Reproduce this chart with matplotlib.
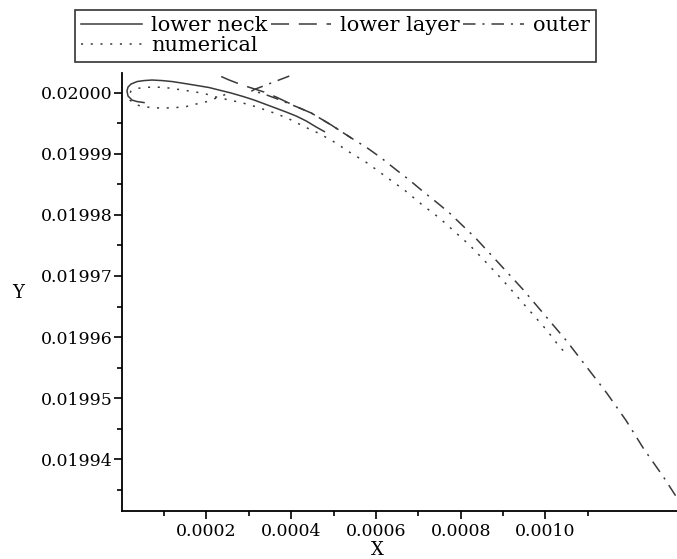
import matplotlib
matplotlib.use("Agg")
import matplotlib.pyplot as plt
from matplotlib.ticker import FixedLocator, FormatStrFormatter

plt.rcParams['font.family'] = ['DejaVu Serif']
plt.rcParams['lines.scale_dashes'] = False

# ---- data ----
outer_x = [3.955e-4, 3.317e-4, 3.128e-4, 3.057e-4, 3.199e-4, 3.364e-4, 3.648e-4, 4.144e-4,
           4.475e-4, 4.948e-4, 5.421e-4, 5.799e-4, 6.130e-4, 6.485e-4, 6.792e-4, 7.099e-4,
           7.454e-4, 7.738e-4, 8.352e-4, 8.920e-4, 9.463e-4, 9.984e-4, 1.0504e-3, 1.0976e-3,
           1.1449e-3, 1.1898e-3, 1.2324e-3, 1.2773e-3, 1.3104e-3]
outer_y = [0.0200027, 0.0200010, 0.0200005, 0.0200002, 0.02000008, 0.01999975, 0.01999902,
           0.01999763, 0.01999665, 0.01999468, 0.01999255, 0.01999092, 0.01998928, 0.01998732,
           0.01998568, 0.01998388, 0.01998192, 0.01998028, 0.01997619, 0.01997193, 0.01996784,
           0.01996359, 0.01995933, 0.01995508, 0.01995082, 0.01994640, 0.01994166, 0.01993724,
           0.0199337]

layer_x = [2.348e-4, 2.537e-4, 2.844e-4, 3.364e-4, 3.648e-4, 4.144e-4, 4.475e-4, 4.948e-4, 5.421e-4]
layer_y = [0.02000262, 0.02000205, 0.02000123, 0.02000008, 0.01999926, 0.01999763, 0.01999665,
           0.01999468, 0.01999255]

neck_x = [5.27e-5, 3.62e-5, 2.44e-5, 1.49e-5, 1.25e-5, 1.49e-5, 2.20e-5, 3.62e-5, 5.27e-5,
          7.16e-5, 9.53e-5, 1.189e-4, 1.426e-4, 1.780e-4, 2.064e-4, 2.300e-4, 2.584e-4, 2.868e-4,
          3.128e-4, 3.317e-4, 3.600e-4, 3.884e-4, 4.121e-4, 4.357e-4, 4.593e-4, 4.783e-4]
neck_y = [0.01999836, 0.01999853, 0.01999877, 0.01999943, 0.02000025, 0.0200009, 0.02000139,
          0.0200018, 0.02000196, 0.02000205, 0.02000196, 0.0200018, 0.02000155, 0.02000115,
          0.02000082, 0.02000041, 0.01999992, 0.01999935, 0.01999877, 0.01999828, 0.01999755,
          0.01999681, 0.01999615, 0.01999534, 0.01999435, 0.01999362]

num_x = [2.442e-4, 2.229e-4, 1.993e-4, 1.757e-4, 1.520e-4, 1.284e-4, 1.000e-4, 7.64e-5, 5.27e-5,
         3.14e-5, 1.96e-5, 1.73e-5, 2.20e-5, 3.38e-5, 5.27e-5, 7.16e-5, 1.000e-4, 1.284e-4,
         1.520e-4, 1.757e-4, 1.993e-4, 2.182e-4, 2.489e-4, 2.820e-4, 3.080e-4, 3.364e-4,
         3.600e-4, 3.908e-4, 4.192e-4, 4.381e-4, 4.664e-4, 5.019e-4, 5.374e-4, 5.799e-4,
         6.248e-4, 6.674e-4, 7.099e-4, 7.501e-4, 8.211e-4, 8.683e-4, 8.991e-4, 9.511e-4,
         1.0031e-3, 1.0338e-3, 1.0456e-3]
num_y = [0.01999967, 0.0199991, 0.01999849, 0.01999812, 0.01999771, 0.01999755, 0.01999746,
         0.01999751, 0.01999768, 0.01999804, 0.01999877, 0.01999959, 0.02000025, 0.02000065,
         0.02000082, 0.0200009, 0.02000085, 0.02000057, 0.02000033, 0.02000008, 0.01999975,
         0.01999935, 0.01999885, 0.01999836, 0.01999787, 0.01999722, 0.01999665, 0.01999583,
         0.01999484, 0.01999419, 0.01999329, 0.0199919, 0.01999026, 0.01998846, 0.01998617,
         0.01998404, 0.01998159, 0.01997946, 0.01997504, 0.01997161, 0.01996932, 0.01996522,
         0.01996113, 0.01995835, 0.01995753]

labels = ["lower neck", "lower layer", "outer", "numerical"]
xticks = [0.0002, 0.0004, 0.0006, 0.0008, 0.0010]
yticks = [0.01994, 0.01995, 0.01996, 0.01997, 0.01998, 0.01999, 0.02000]

# ---- figure ----
W, H = 677, 559
fig = plt.figure(figsize=(W / 100, H / 100), dpi=100)
ax = fig.add_axes([121.7 / W, 1 - 510.7 / H, 1 - 121.7 / W, (510.7 - 73) / H])

col = '#3a3a3a'
lw = 1.1
l_neck, = ax.plot(neck_x, neck_y, color=col, lw=lw, ls='-')
l_layer, = ax.plot(layer_x, layer_y, color=col, lw=lw, ls=(0, (13, 7)))
l_outer, = ax.plot(outer_x, outer_y, color=col, lw=lw, ls=(0, (9, 5, 1.5, 5)))
l_num, = ax.plot(num_x, num_y, color=col, lw=lw, ls=(0, (1.5, 5.5)))

ax.set_xlim(0, 0.0013104)
ax.set_ylim(0.0199316, 0.0200032)

for s in ['top', 'right']:
    ax.spines[s].set_visible(False)
for s in ['left', 'bottom']:
    ax.spines[s].set_linewidth(1.3)

ax.xaxis.set_major_locator(FixedLocator(xticks))
ax.xaxis.set_minor_locator(FixedLocator([0.0001, 0.0003, 0.0005, 0.0007, 0.0009, 0.0011]))
ax.yaxis.set_major_locator(FixedLocator(yticks))
ax.yaxis.set_minor_locator(FixedLocator([0.019935, 0.019945, 0.019955, 0.019965,
                                         0.019975, 0.019985, 0.019995]))
ax.xaxis.set_major_formatter(FormatStrFormatter('%.4f'))
ax.yaxis.set_major_formatter(FormatStrFormatter('%.5f'))
ax.tick_params(which='major', direction='out', length=5.5, width=1.2, labelsize=12.5)
ax.tick_params(axis='y', which='major', pad=1)
ax.tick_params(axis='x', which='major', pad=3.5)
ax.tick_params(which='minor', direction='out', length=3.5, width=1.2)

fig.text(18 / W, 1 - 293 / H, 'Y', ha='center', va='center', fontsize=13)
fig.text(377 / W, 1 - 550 / H, 'X', ha='center', va='center', fontsize=13)

leg = fig.legend([l_neck, l_num, l_layer, l_outer],
                 [labels[0], labels[3], labels[1], labels[2]],
                 ncol=3, loc='upper left', bbox_to_anchor=(75 / W, 1 - 10 / H),
                 fontsize=15, frameon=True, fancybox=False, edgecolor='black',
                 borderaxespad=0, borderpad=0.3, handlelength=2.9, handletextpad=0.45,
                 columnspacing=0.15, labelspacing=0.05)
leg.get_frame().set_linewidth(1.2)

fig.savefig('out.png', dpi=100)
